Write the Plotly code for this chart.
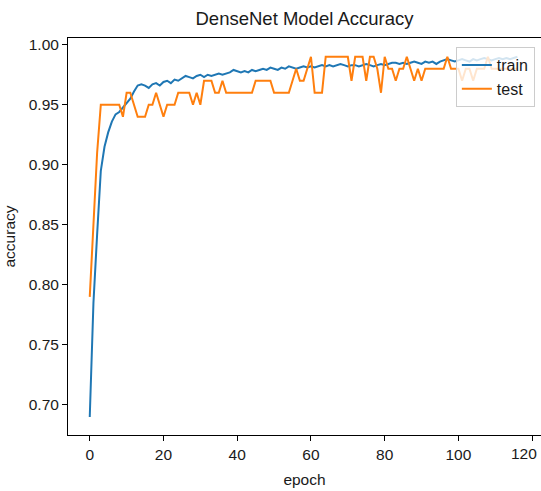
import plotly.graph_objects as go

# Training history of the DenseNet model: per-epoch accuracy
epochs = list(range(117))

train_acc = [
    0.690, 0.785, 0.842, 0.895, 0.915, 0.927, 0.936, 0.942, 0.944, 0.948,
    0.952, 0.955, 0.961, 0.966, 0.967, 0.966, 0.964, 0.967, 0.968, 0.966,
    0.969, 0.970, 0.968, 0.971, 0.970, 0.972, 0.974, 0.973, 0.972, 0.974,
    0.975, 0.973, 0.975, 0.974, 0.975, 0.976, 0.975, 0.976, 0.977, 0.979,
    0.978, 0.977, 0.978, 0.977, 0.979, 0.978, 0.979, 0.980, 0.979, 0.981,
    0.980, 0.979, 0.981, 0.980, 0.982, 0.981, 0.980, 0.981, 0.982, 0.981,
    0.982, 0.981, 0.982, 0.983, 0.982, 0.983, 0.982, 0.983, 0.984, 0.983,
    0.982, 0.983, 0.983, 0.982, 0.983, 0.984, 0.983, 0.982, 0.983, 0.984,
    0.983, 0.984, 0.985, 0.985, 0.984, 0.985, 0.984, 0.985, 0.986, 0.985,
    0.984, 0.986, 0.985, 0.986, 0.984, 0.986, 0.987, 0.988, 0.987, 0.986,
    0.987, 0.988, 0.987, 0.986, 0.988, 0.987, 0.988, 0.989, 0.988, 0.987,
    0.988, 0.989, 0.988, 0.989, 0.988, 0.989, 0.990,
]

test_acc = [
    0.79, 0.85, 0.91, 0.95, 0.95, 0.95, 0.95, 0.95, 0.95, 0.94,
    0.96, 0.96, 0.95, 0.94, 0.94, 0.94, 0.95, 0.95, 0.96, 0.95,
    0.94, 0.95, 0.95, 0.95, 0.96, 0.96, 0.96, 0.96, 0.95, 0.96,
    0.95, 0.97, 0.97, 0.97, 0.96, 0.96, 0.97, 0.96, 0.96, 0.96,
    0.96, 0.96, 0.96, 0.96, 0.96, 0.97, 0.97, 0.97, 0.97, 0.97,
    0.96, 0.96, 0.96, 0.96, 0.96, 0.97, 0.98, 0.97, 0.97, 0.98,
    0.99, 0.96, 0.96, 0.96, 0.99, 0.99, 0.99, 0.99, 0.99, 0.99,
    0.99, 0.97, 0.99, 0.99, 0.99, 0.97, 0.99, 0.99, 0.98, 0.96,
    0.99, 0.98, 0.98, 0.97, 0.98, 0.98, 0.99, 0.98, 0.97, 0.98,
    0.97, 0.98, 0.98, 0.98, 0.98, 0.98, 0.98, 0.99, 0.98, 0.98,
    0.98, 0.97, 0.98, 0.98, 0.97, 0.98, 0.98, 0.98, 0.99, 0.98,
    0.98, 0.98, 0.98, 0.98, 0.98, 0.98, 0.98,
]

x_ticks = [0, 20, 40, 60, 80, 100, 120]
y_ticks = [0.70, 0.75, 0.80, 0.85, 0.90, 0.95, 1.00]

FONT = "Liberation Sans, Arial, sans-serif"
INK = "#1a1a1a"

fig = go.Figure()
fig.add_trace(go.Scatter(x=epochs, y=train_acc, mode="lines", name="train",
                         line=dict(color="#1f77b4", width=2)))
fig.add_trace(go.Scatter(x=epochs, y=test_acc, mode="lines", name="test",
                         line=dict(color="#ff7f0e", width=2)))

# the last x tick label sits at the right edge, so it is drawn right-aligned
last_tick = x_ticks[-1]
x_ticktext = [str(v) for v in x_ticks[:-1]] + [""]
fig.add_annotation(x=last_tick, xref="x", y=0, yref="paper",
                   text=str(last_tick), showarrow=False,
                   xanchor="right", yanchor="middle", xshift=7, yshift=-18,
                   font=dict(family=FONT, size=15.5, color=INK))

fig.update_layout(
    width=541, height=491,
    margin=dict(l=68, r=0, t=38, b=56),
    paper_bgcolor="white", plot_bgcolor="white",
    font=dict(family=FONT, size=15.5, color=INK),
    title=dict(text="DenseNet Model Accuracy", x=0.5, xref="paper",
               xanchor="center", y=0.963, yanchor="middle",
               font=dict(family=FONT, size=18.5, color=INK)),
    showlegend=True,
    legend=dict(x=0.987, y=0.977, xanchor="right", yanchor="top",
                bgcolor="rgba(255,255,255,0.8)", bordercolor="#cccccc",
                borderwidth=1, font=dict(family=FONT, size=16, color=INK),
                tracegroupgap=0),
)

fig.update_xaxes(
    range=[-5.9, 122.4], tickvals=x_ticks, ticktext=x_ticktext,
    showgrid=False, zeroline=False,
    showline=True, linecolor="black", linewidth=1, mirror=True,
    ticks="outside", ticklen=5, tickcolor="black",
    title=dict(text="epoch", standoff=12, font=dict(family=FONT, size=15.5, color=INK)),
    automargin=False,
)
fig.update_yaxes(
    range=[0.675, 1.0056], tickvals=y_ticks, ticktext=[f"{v:.2f}" for v in y_ticks],
    showgrid=False, zeroline=False,
    showline=True, linecolor="black", linewidth=1, mirror=False,
    ticks="outside", ticklen=5, tickcolor="black",
    title=dict(text="accuracy", standoff=9, font=dict(family=FONT, size=15.5, color=INK)),
    automargin=False,
)

fig.write_html("out.html")
